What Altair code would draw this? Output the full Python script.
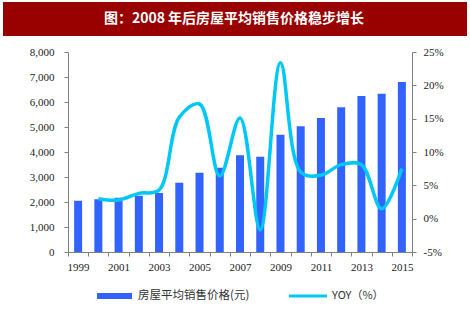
import altair as alt
import pandas as pd

# ---- data ----
years = ["1999", "2000", "2001", "2002", "2003", "2004", "2005", "2006", "2007",
         "2008", "2009", "2010", "2011", "2012", "2013", "2014", "2015"]
price = [2050, 2110, 2170, 2250, 2360, 2770, 3170, 3370, 3870,
         3810, 4690, 5030, 5360, 5790, 6240, 6330, 6800]
yoy_years = ["2000", "2001", "2002", "2003", "2004", "2005", "2006", "2007",
             "2008", "2009", "2010", "2011", "2012", "2013", "2014", "2015"]
yoy = [3.0, 2.8, 3.8, 4.3, 15.2, 17.2, 6.4, 15.1, -1.7, 23.4, 7.0, 6.5, 8.1, 8.1, 1.5, 7.5]

left_ticks = [0, 1000, 2000, 3000, 4000, 5000, 6000, 7000, 8000]
right_ticks = [-5, 0, 5, 10, 15, 20, 25]

title_text = "图：2008 年后房屋平均销售价格稳步增长"
price_name = "房屋平均销售价格(元)"
yoy_name = "YOY（%）"

BAR = "#3363FF"
LINE = "#00C8F5"
AXIS = "#7f7f7f"
LABEL_FONT = "Liberation Serif"

df_price = pd.DataFrame({"year": years, "price": price})
df_yoy = pd.DataFrame({"year": yoy_years, "yoy": yoy})
one = pd.DataFrame({"k": [0]})

xscale = alt.Scale(domain=years, paddingInner=0, paddingOuter=0)
xaxis = alt.Axis(
    title=None, tickBand="extent", labelAngle=0,
    labelExpr="toNumber(datum.value) % 2 == 1 ? datum.value : ''",
    domainColor=AXIS, tickColor=AXIS, tickSize=4, labelPadding=5,
    labelFont=LABEL_FONT, labelFontSize=11, labelColor="#222222",
)

bars = alt.Chart(df_price).mark_bar(size=8, color=BAR).encode(
    x=alt.X("year:O", scale=xscale, axis=xaxis),
    y=alt.Y("price:Q", scale=alt.Scale(domain=[0, 8000], nice=False),
            axis=alt.Axis(title=None, values=left_ticks, grid=False,
                          labelExpr="format(datum.value, ',')",
                          domainColor=AXIS, tickColor=AXIS, tickSize=4,
                          labelPadding=10, labelFont=LABEL_FONT, labelFontSize=11,
                          labelColor="#222222")),
)

line = alt.Chart(df_yoy).mark_line(interpolate="catmull-rom", color=LINE,
                                   strokeWidth=3.5).encode(
    x=alt.X("year:O", scale=xscale, axis=xaxis),
    y=alt.Y("yoy:Q", scale=alt.Scale(domain=[-5, 25], nice=False),
            axis=alt.Axis(title=None, orient="right", values=right_ticks,
                          labelExpr="datum.value + '%'", grid=False,
                          domainColor=AXIS, tickColor=AXIS, tickSize=4,
                          labelPadding=7, labelFont=LABEL_FONT, labelFontSize=11,
                          labelColor="#222222")),
)

# ---- title banner ----
title_bg = alt.Chart(one).mark_rect(color="#990000").encode(
    x=alt.value(-65), x2=alt.value(399), y=alt.value(-50), y2=alt.value(-16))
title = alt.Chart(one).mark_text(color="white", fontSize=14, fontWeight="bold",
                                 font="Noto Sans CJK SC", align="center",
                                 baseline="middle").encode(
    x=alt.value(166), y=alt.value(-33), text=alt.value(title_text))

# ---- custom legend ----
leg_rect = alt.Chart(one).mark_rect(color=BAR).encode(
    x=alt.value(29), x2=alt.value(64), y=alt.value(241), y2=alt.value(247))
leg_text1 = alt.Chart(one).mark_text(fontSize=11.5, font="Noto Sans CJK SC",
                                     color="#333333", align="left",
                                     baseline="middle").encode(
    x=alt.value(70), y=alt.value(244), text=alt.value(price_name))
leg_line = alt.Chart(one).mark_rule(color=LINE, strokeWidth=3).encode(
    x=alt.value(221), x2=alt.value(259), y=alt.value(244))
leg_text2 = alt.Chart(one).mark_text(fontSize=11, font="Noto Sans CJK SC",
                                     color="#333333", align="left",
                                     baseline="middle").encode(
    x=alt.value(264), y=alt.value(244), text=alt.value(yoy_name))

chart = alt.layer(
    title_bg, title, bars, line, leg_rect, leg_text1, leg_line, leg_text2
).resolve_scale(y="independent").properties(
    width=344, height=200,
    padding={"left": 68, "top": 52, "right": 58, "bottom": 71},
    autosize=alt.AutoSizeParams(type="none"),
    background="white",
).configure_view(stroke=None)

chart.save("out.html", embed_options={"renderer": "svg", "actions": False})
